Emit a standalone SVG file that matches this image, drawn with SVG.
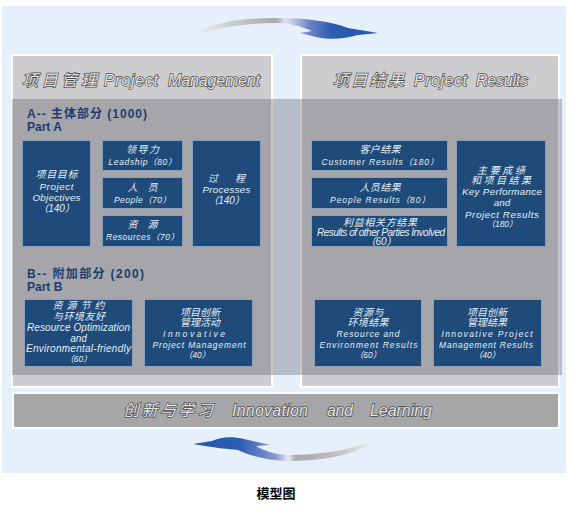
<svg xmlns="http://www.w3.org/2000/svg" width="571" height="510" viewBox="0 0 571 510">
<defs>
<style>
.bg{fill:#e6f0fa}
.panel{fill:#cdcdcf;stroke:#ffffff;stroke-width:2}
.band{fill:#5c5c64;opacity:0.34}
.bar{fill:#a6a5a8;stroke:#ffffff;stroke-width:2}
.bx{fill:#1e4b7a;stroke:#8aa0b8;stroke-width:1}
.ttl{font-family:"Liberation Sans","Noto Sans CJK SC",sans-serif;font-style:italic;font-size:16px;fill:#e6e6e6;stroke:#4a4a4a;stroke-width:1.4;paint-order:stroke fill}
.hd{font-family:"Liberation Sans","Noto Sans CJK SC",sans-serif;font-weight:bold;font-size:12px;fill:#1a3d72}
.t{font-family:"Liberation Sans","Noto Sans CJK SC",sans-serif;font-style:italic;font-size:10px;fill:#e8eef5;text-anchor:middle}
.s{font-size:8.5px}
.l{font-size:9.8px}
.cap{font-family:"Liberation Sans","Noto Sans CJK SC",sans-serif;font-weight:bold;font-size:13px;fill:#000;text-anchor:middle}
</style>
<linearGradient id="gTop" x1="193" y1="0" x2="378" y2="0" gradientUnits="userSpaceOnUse">
<stop offset="0" stop-color="#eef1f4"/>
<stop offset="0.3" stop-color="#bdbdbf"/>
<stop offset="0.45" stop-color="#a9a9ac"/>
<stop offset="0.5" stop-color="#dfe3f2"/>
<stop offset="0.63" stop-color="#6f82c8"/>
<stop offset="0.75" stop-color="#2c5cb0"/>
<stop offset="1" stop-color="#2458ae"/>
</linearGradient>
<linearGradient id="gBot" x1="193" y1="0" x2="377" y2="0" gradientUnits="userSpaceOnUse">
<stop offset="0" stop-color="#2458ae"/>
<stop offset="0.25" stop-color="#2c5cb0"/>
<stop offset="0.45" stop-color="#8a98d0"/>
<stop offset="0.52" stop-color="#e4e8f2"/>
<stop offset="0.56" stop-color="#a9a9ac"/>
<stop offset="0.8" stop-color="#c2c2c4"/>
<stop offset="1" stop-color="#eef1f4"/>
</linearGradient>
</defs>

<rect class="bg" x="2" y="6" width="564" height="467"/>

<g id="connectors">
<path d="M193,36 C206,24 236,18 277,18 C305,18 330,21 348,28 L378,33 L358,35 C345,39 328,40 316,37 L300,33 L312,31 C300,26 290,23 277,23 C245,23 215,28 193,36 Z" fill="url(#gTop)"/>
<path d="M193,444 L212,441 C220,437 232,436 244,439 L270,445 L256,446 C268,453 280,455 292,455 C330,454 360,448 377,438 C362,452 335,460 292,461 C270,461 250,456 238,450 C228,449 218,448 205,446 Z" fill="url(#gBot)"/>
</g>

<g id="panel-management">
<rect class="panel" x="12" y="55" width="260" height="332"/>
<text class="ttl" x="22" y="86" textLength="75" lengthAdjust="spacing">项目管理</text>
<text class="ttl" x="104" y="86" textLength="54" lengthAdjust="spacing">Project</text>
<text class="ttl" x="168" y="86" textLength="92" lengthAdjust="spacing">Management</text>
</g>

<g id="panel-results">
<rect class="panel" x="301" y="55" width="258" height="332"/>
<text class="ttl" x="333" y="86" textLength="71" lengthAdjust="spacing">项目结果</text>
<text class="ttl" x="414" y="86" textLength="53" lengthAdjust="spacing">Project</text>
<text class="ttl" x="476" y="86" textLength="52" lengthAdjust="spacing">Results</text>
</g>

<rect class="band" x="12" y="99" width="550" height="276"/>

<g id="part-a-header">
<text class="hd" x="27" y="117.5" textLength="120" lengthAdjust="spacing">A-- 主体部分 (1000)</text>
<text class="hd" x="27" y="130.5">Part A</text>
</g>

<g id="node-objectives">
<rect class="bx" x="22.5" y="140.5" width="68" height="106"/>
<text class="t" x="56.5" y="177.5" textLength="42" lengthAdjust="spacing">项目目标</text>
<text class="t l" x="56.5" y="189.5" textLength="34" lengthAdjust="spacing">Project</text>
<text class="t l" x="56.5" y="200.7" textLength="48" lengthAdjust="spacing">Objectives</text>
<text class="t" x="56.5" y="211.8">（140）</text>
</g>

<g id="node-leadership">
<rect class="bx" x="102.5" y="140.5" width="80" height="30"/>
<text class="t" x="142.5" y="153" textLength="33" lengthAdjust="spacing">领导力</text>
<text class="t s" x="142.5" y="164.5" textLength="68" lengthAdjust="spacing">Leadship（80）</text>
</g>

<g id="node-people">
<rect class="bx" x="102.5" y="177.5" width="80" height="31"/>
<text class="t" x="142.5" y="191" textLength="30" lengthAdjust="spacing">人 员</text>
<text class="t s" x="142.5" y="202.5" textLength="57" lengthAdjust="spacing">People（70）</text>
</g>

<g id="node-resources">
<rect class="bx" x="102.5" y="215.5" width="80" height="31"/>
<text class="t" x="142.5" y="228" textLength="30" lengthAdjust="spacing">资 源</text>
<text class="t s" x="142.5" y="239.5" textLength="73" lengthAdjust="spacing">Resources（70）</text>
</g>

<g id="node-processes">
<rect class="bx" x="192.5" y="140.5" width="68" height="106"/>
<text class="t" x="226.5" y="181.5" textLength="37" lengthAdjust="spacing">过 程</text>
<text class="t l" x="226.5" y="193.3" textLength="48" lengthAdjust="spacing">Processes</text>
<text class="t" x="226.5" y="204.3">（140）</text>
</g>

<g id="node-customer">
<rect class="bx" x="311.5" y="140.5" width="136" height="30"/>
<text class="t" x="380" y="153" textLength="41" lengthAdjust="spacing">客户结果</text>
<text class="t s" x="380" y="164.5" textLength="117" lengthAdjust="spacing">Customer Results（180）</text>
</g>

<g id="node-people-results">
<rect class="bx" x="311.5" y="177.5" width="136" height="31"/>
<text class="t" x="380" y="191" textLength="41" lengthAdjust="spacing">人员结果</text>
<text class="t s" x="380" y="202.5" textLength="100" lengthAdjust="spacing">People Results（80）</text>
</g>

<g id="node-other-parties">
<rect class="bx" x="311.5" y="215.5" width="136" height="31"/>
<text class="t" x="380" y="225.5" font-size="9.5" textLength="74" lengthAdjust="spacing">利益相关方结果</text>
<text class="t" x="381" y="235.5" font-size="8" textLength="128" lengthAdjust="spacing">Results of other Parties Involved</text>
<text class="t" x="381" y="245" font-size="8">（60）</text>
</g>

<g id="node-key-performance">
<rect class="bx" x="456.5" y="140.5" width="89" height="106"/>
<text class="t" x="501" y="173.5" font-size="9.5" textLength="48" lengthAdjust="spacing">主要成绩</text>
<text class="t" x="501" y="183.5" font-size="9.5" textLength="60" lengthAdjust="spacing">和项目结果</text>
<text class="t l" x="502" y="195" textLength="80" lengthAdjust="spacing">Key Performance</text>
<text class="t l" x="502" y="206.3">and</text>
<text class="t l" x="502" y="217.5" textLength="74" lengthAdjust="spacing">Project Results</text>
<text class="t s" x="502" y="227.4">（180）</text>
</g>

<g id="part-b-header">
<text class="hd" x="27" y="277.5" textLength="117" lengthAdjust="spacing">B-- 附加部分 (200)</text>
<text class="hd" x="27" y="291">Part B</text>
</g>

<g id="node-resource-optimization">
<rect class="bx" x="24.5" y="299.5" width="108" height="67"/>
<text class="t" x="78.5" y="308.5" font-size="9.5" textLength="52" lengthAdjust="spacing">资源节约</text>
<text class="t" x="79" y="320" font-size="9.5" textLength="52" lengthAdjust="spacing">与环境友好</text>
<text class="t" x="78.5" y="331" font-size="9.5" textLength="103" lengthAdjust="spacing">Resource Optimization</text>
<text class="t" x="78.5" y="341.5" font-size="9.5">and</text>
<text class="t" x="78.5" y="352" font-size="9.5" textLength="105" lengthAdjust="spacing">Environmental-friendly</text>
<text class="t s" x="78.5" y="362">（60）</text>
</g>

<g id="node-innovative-pm">
<rect class="bx" x="144.5" y="299.5" width="108" height="67"/>
<text class="t" x="200" y="315.5" textLength="40" lengthAdjust="spacing">项目创新</text>
<text class="t" x="200" y="326" textLength="40" lengthAdjust="spacing">管理活动</text>
<text class="t s" x="194" y="337" textLength="62" lengthAdjust="spacing">Innovative</text>
<text class="t s" x="199" y="347.5" textLength="93" lengthAdjust="spacing">Project Management</text>
<text class="t s" x="197" y="357.5">（40）</text>
</g>

<g id="node-resource-environment">
<rect class="bx" x="314.5" y="299.5" width="107" height="67"/>
<text class="t" x="368" y="315.5" textLength="31" lengthAdjust="spacing">资源与</text>
<text class="t" x="368" y="326" textLength="41" lengthAdjust="spacing">环境结果</text>
<text class="t s" x="368" y="337" textLength="63" lengthAdjust="spacing">Resource and</text>
<text class="t s" x="368.5" y="347.5" textLength="98" lengthAdjust="spacing">Environment Results</text>
<text class="t s" x="368" y="357.5">（60）</text>
</g>

<g id="node-innovative-results">
<rect class="bx" x="433.5" y="299.5" width="108" height="67"/>
<text class="t" x="487" y="315.5" textLength="40" lengthAdjust="spacing">项目创新</text>
<text class="t" x="487" y="326" textLength="40" lengthAdjust="spacing">管理结果</text>
<text class="t s" x="487" y="337" textLength="91" lengthAdjust="spacing">Innovative Project</text>
<text class="t s" x="486" y="347.5" textLength="94" lengthAdjust="spacing">Management Results</text>
<text class="t s" x="487" y="357.5">（40）</text>
</g>

<g id="bar-innovation">
<rect class="bar" x="13" y="393" width="546" height="35"/>
<text class="ttl" x="123" y="416" textLength="90" lengthAdjust="spacing">创新与学习</text>
<text class="ttl" x="232" y="416" font-size="15" textLength="76" lengthAdjust="spacing">Innovation</text>
<text class="ttl" x="327" y="416" font-size="15" textLength="26" lengthAdjust="spacing">and</text>
<text class="ttl" x="370" y="416" font-size="15" textLength="62" lengthAdjust="spacing">Learning</text>
</g>

<text class="cap" x="276" y="498">模型图</text>
</svg>
